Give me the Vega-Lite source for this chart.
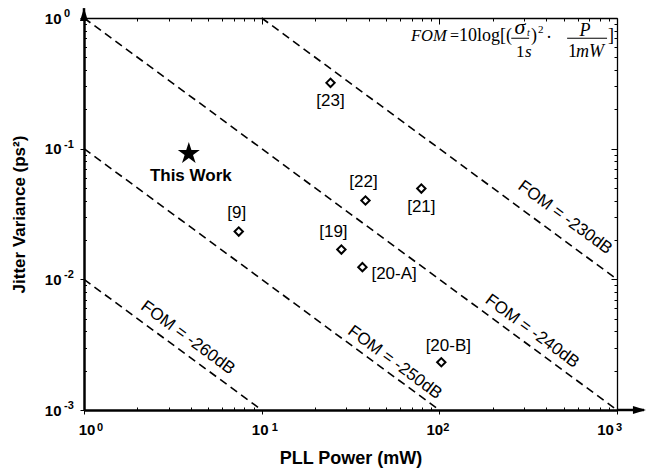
{
  "$schema": "https://vega.github.io/schema/vega-lite/v6.json",
  "width": 533,
  "height": 392,
  "autosize": "none",
  "padding": {"left": 84, "top": 18, "right": 31, "bottom": 59},
  "background": "white",
  "config": {"view": {"stroke": null}, "font": "Liberation Sans", "axis": {"grid": false}},
  "data": {"values": [{}]},
  "datasets": {
    "fom": [
      {"fom": "-230dB", "p1": 10, "v1": 1, "p2": 1000, "v2": 0.01},
      {"fom": "-240dB", "p1": 1, "v1": 1, "p2": 1000, "v2": 0.001},
      {"fom": "-250dB", "p1": 1, "v1": 0.1, "p2": 100, "v2": 0.001},
      {"fom": "-260dB", "p1": 1, "v1": 0.01, "p2": 10, "v2": 0.001}
    ],
    "fomLabels": [
      {"text": "FOM = -230dB", "p": 510, "v": 0.0297},
      {"text": "FOM = -240dB", "p": 333, "v": 0.00401},
      {"text": "FOM = -250dB", "p": 56.2, "v": 0.00231},
      {"text": "FOM = -260dB", "p": 3.84, "v": 0.00357}
    ],
    "refs": [
      {"name": "[23]", "power": 24.4, "jitter": 0.319},
      {"name": "[22]", "power": 38.4, "jitter": 0.0401},
      {"name": "[21]", "power": 79.2, "jitter": 0.0495},
      {"name": "[9]", "power": 7.43, "jitter": 0.0232},
      {"name": "[19]", "power": 28.1, "jitter": 0.0169},
      {"name": "[20-A]", "power": 36.9, "jitter": 0.0124},
      {"name": "[20-B]", "power": 102.6, "jitter": 0.00232}
    ],
    "thiswork": [{"name": "This Work", "power": 3.89, "jitter": 0.0916}],
    "yExp": [
      {"v": 1, "e": "0"},
      {"v": 0.1, "e": "-1"},
      {"v": 0.01, "e": "-2"},
      {"v": 0.001, "e": "-3"}
    ]
  },
  "resolve": {"axis": {"x": "independent", "y": "independent"}},
  "layer": [
    {
      "data": {"name": "fom"},
      "mark": {"type": "rule", "color": "black", "strokeWidth": 1.6, "strokeDash": [8, 5]},
      "encoding": {
        "x": {
          "field": "p1", "type": "quantitative",
          "scale": {"type": "log", "domain": [1, 1000], "nice": false},
          "axis": {
            "orient": "bottom",
            "values": [1,2,3,4,5,6,7,8,9,10,20,30,40,50,60,70,80,90,100,200,300,400,500,600,700,800,900,1000],
            "labelExpr": "(datum.value == 1 || datum.value == 10 || datum.value == 100 || datum.value == 1000) ? '10' : ''",
            "tickSize": {"condition": {"test": "abs(log(datum.value)/LN10 - round(log(datum.value)/LN10)) < 0.001", "value": 4}, "value": -3},
            "labelOffset": {"condition": [{"test": "datum.value == 1", "value": 2.5}, {"test": "datum.value == 10", "value": -2}, {"test": "datum.value == 100", "value": -5}, {"test": "datum.value == 1000", "value": -12}], "value": 0},
            "tickColor": "black", "tickWidth": 1,
            "domainColor": "black", "domainWidth": 2.5,
            "labelFont": "Liberation Sans", "labelFontWeight": "bold", "labelFontSize": 15, "labelColor": "black",
            "labelPadding": 8, "labelOverlap": false, "labelFlush": false, "labelBound": false,
            "title": "PLL Power (mW)", "titleFont": "Liberation Sans", "titleFontSize": 18, "titleFontWeight": "bold",
            "titleColor": "black", "titleBaseline": "alphabetic", "titleY": 53
          }
        },
        "y": {
          "field": "v1", "type": "quantitative",
          "scale": {"type": "log", "domain": [0.001, 1], "nice": false},
          "axis": {
            "orient": "left",
            "values": [0.001,0.002,0.003,0.004,0.005,0.006,0.007,0.008,0.009,0.01,0.02,0.03,0.04,0.05,0.06,0.07,0.08,0.09,0.1,0.2,0.3,0.4,0.5,0.6,0.7,0.8,0.9,1],
            "labelExpr": "(datum.value == 1 || datum.value == 0.1 || datum.value == 0.01 || datum.value == 0.001) ? '10' : ''",
            "tickSize": {"condition": {"test": "abs(log(datum.value)/LN10 - round(log(datum.value)/LN10)) < 0.001", "value": 4}, "value": -2.5},
            "tickColor": "black", "tickWidth": 1,
            "domainColor": "black", "domainWidth": 2.5,
            "labelFont": "Liberation Sans", "labelFontWeight": "bold", "labelFontSize": 15, "labelColor": "black",
            "labelPadding": 19, "labelOverlap": false, "labelFlush": false, "labelBound": false, "labelBaseline": "middle",
            "title": "Jitter Variance (ps²)", "titleFont": "Liberation Sans", "titleFontSize": 17, "titleFontWeight": "bold",
            "titleColor": "black", "titleBaseline": "alphabetic", "titleX": -60
          }
        },
        "x2": {"field": "p2"},
        "y2": {"field": "v2"}
      }
    },
    {
      "data": {"name": "refs"},
      "mark": {"type": "point", "shape": "diamond", "filled": false, "stroke": "black", "strokeWidth": 2, "size": 70, "opacity": 1},
      "encoding": {
        "x": {
          "field": "power", "type": "quantitative",
          "axis": {
            "orient": "top",
            "values": [1,2,3,4,5,6,7,8,9,10,20,30,40,50,60,70,80,90,100,200,300,400,500,600,700,800,900,1000],
            "labels": false, "title": null,
            "tickSize": {"condition": {"test": "abs(log(datum.value)/LN10 - round(log(datum.value)/LN10)) < 0.001", "value": -6}, "value": -3},
            "tickColor": "black", "tickWidth": 1, "domainColor": "black", "domainWidth": 1.3
          }
        },
        "y": {
          "field": "jitter", "type": "quantitative",
          "axis": {
            "orient": "right",
            "values": [0.001,0.002,0.003,0.004,0.005,0.006,0.007,0.008,0.009,0.01,0.02,0.03,0.04,0.05,0.06,0.07,0.08,0.09,0.1,0.2,0.3,0.4,0.5,0.6,0.7,0.8,0.9,1],
            "labels": false, "title": null,
            "tickSize": {"condition": {"test": "abs(log(datum.value)/LN10 - round(log(datum.value)/LN10)) < 0.001", "value": -6}, "value": -3},
            "tickColor": "black", "tickWidth": 1, "domainColor": "black", "domainWidth": 1.3
          }
        }
      }
    },
    {
      "data": {"name": "yExp"},
      "mark": {"type": "text", "font": "Liberation Sans", "fontSize": 11, "fontWeight": "bold", "color": "black", "align": "left", "baseline": "middle", "dx": -20, "dy": -4},
      "encoding": {
        "x": {"datum": 1, "type": "quantitative", "axis": null},
        "y": {"field": "v", "type": "quantitative", "axis": null},
        "text": {"field": "e"}
      }
    },
    {
      "mark": {"type": "text", "text": "0", "font": "Liberation Sans", "fontSize": 11, "fontWeight": "bold", "color": "black", "align": "left", "baseline": "middle", "dx": 13, "dy": 17.5},
      "encoding": {"x": {"datum": 1, "type": "quantitative", "axis": null}, "y": {"datum": 0.001, "type": "quantitative", "axis": null}}
    },
    {
      "mark": {"type": "text", "text": "1", "font": "Liberation Sans", "fontSize": 11, "fontWeight": "bold", "color": "black", "align": "left", "baseline": "middle", "dx": 10, "dy": 17.5},
      "encoding": {"x": {"datum": 10, "type": "quantitative", "axis": null}, "y": {"datum": 0.001, "type": "quantitative", "axis": null}}
    },
    {
      "mark": {"type": "text", "text": "2", "font": "Liberation Sans", "fontSize": 11, "fontWeight": "bold", "color": "black", "align": "left", "baseline": "middle", "dx": 4, "dy": 17.5},
      "encoding": {"x": {"datum": 100, "type": "quantitative", "axis": null}, "y": {"datum": 0.001, "type": "quantitative", "axis": null}}
    },
    {
      "mark": {"type": "text", "text": "3", "font": "Liberation Sans", "fontSize": 11, "fontWeight": "bold", "color": "black", "align": "left", "baseline": "middle", "dx": -1, "dy": 17.5},
      "encoding": {"x": {"datum": 1000, "type": "quantitative", "axis": null}, "y": {"datum": 0.001, "type": "quantitative", "axis": null}}
    },
    {
      "mark": {"type": "rule", "color": "black", "strokeWidth": 2.5},
      "encoding": {
        "x": {"datum": 1, "type": "quantitative", "axis": null},
        "y": {"datum": 1, "type": "quantitative", "axis": null},
        "y2": {"datum": 1.19}
      }
    },
    {
      "mark": {"type": "rule", "color": "black", "strokeWidth": 2.5},
      "encoding": {
        "x": {"datum": 1000, "type": "quantitative", "axis": null},
        "x2": {"datum": 1420},
        "y": {"datum": 0.001, "type": "quantitative", "axis": null}
      }
    },
    {
      "mark": {"type": "point", "shape": "M0,-1L0.62,1L-0.62,1Z", "filled": true, "color": "black", "size": 169, "opacity": 1},
      "encoding": {
        "x": {"datum": 1, "type": "quantitative", "axis": null},
        "y": {"datum": 1.063, "type": "quantitative", "axis": null}
      }
    },
    {
      "mark": {"type": "point", "shape": "M1,0L-1,-0.62L-1,0.62Z", "filled": true, "color": "black", "size": 169, "opacity": 1},
      "encoding": {
        "x": {"datum": 1338, "type": "quantitative", "axis": null},
        "y": {"datum": 0.001, "type": "quantitative", "axis": null}
      }
    },
    {
      "data": {"name": "fomLabels"},
      "mark": {"type": "text", "angle": 36.4, "align": "center", "baseline": "middle", "font": "Liberation Sans", "fontSize": 17, "color": "black"},
      "encoding": {
        "x": {"field": "p", "type": "quantitative", "axis": null},
        "y": {"field": "v", "type": "quantitative", "axis": null},
        "text": {"field": "text"}
      }
    },
    {
      "data": {"name": "thiswork"},
      "mark": {"type": "point", "shape": "M0,-1L0.2245,-0.309L0.951,-0.309L0.3633,0.118L0.588,0.809L0,0.382L-0.588,0.809L-0.3633,0.118L-0.951,-0.309L-0.2245,-0.309Z", "filled": true, "color": "black", "size": 535, "opacity": 1},
      "encoding": {
        "x": {"field": "power", "type": "quantitative", "axis": null},
        "y": {"field": "jitter", "type": "quantitative", "axis": null}
      }
    },
    {
      "data": {"name": "thiswork"},
      "mark": {"type": "text", "font": "Liberation Sans", "fontSize": 17, "fontWeight": "bold", "color": "black", "baseline": "middle", "dx": 2, "dy": 22},
      "encoding": {
        "x": {"field": "power", "type": "quantitative", "axis": null},
        "y": {"field": "jitter", "type": "quantitative", "axis": null},
        "text": {"field": "name"}
      }
    },
    {
      "data": {"name": "refs"},
      "transform": [{"filter": "datum.name == '[22]' || datum.name == '[9]'"}],
      "mark": {"type": "text", "font": "Liberation Sans", "fontSize": 17, "color": "black", "baseline": "middle", "dx": -2, "dy": -19},
      "encoding": {
        "x": {"field": "power", "type": "quantitative", "axis": null},
        "y": {"field": "jitter", "type": "quantitative", "axis": null},
        "text": {"field": "name"}
      }
    },
    {
      "data": {"name": "refs"},
      "transform": [{"filter": "datum.name == '[19]'"}],
      "mark": {"type": "text", "font": "Liberation Sans", "fontSize": 17, "color": "black", "baseline": "middle", "dx": -8, "dy": -18},
      "encoding": {
        "x": {"field": "power", "type": "quantitative", "axis": null},
        "y": {"field": "jitter", "type": "quantitative", "axis": null},
        "text": {"field": "name"}
      }
    },
    {
      "data": {"name": "refs"},
      "transform": [{"filter": "datum.name == '[20-B]'"}],
      "mark": {"type": "text", "font": "Liberation Sans", "fontSize": 17, "color": "black", "baseline": "middle", "dx": 7, "dy": -16},
      "encoding": {
        "x": {"field": "power", "type": "quantitative", "axis": null},
        "y": {"field": "jitter", "type": "quantitative", "axis": null},
        "text": {"field": "name"}
      }
    },
    {
      "data": {"name": "refs"},
      "transform": [{"filter": "datum.name == '[23]' || datum.name == '[21]'"}],
      "mark": {"type": "text", "font": "Liberation Sans", "fontSize": 17, "color": "black", "baseline": "middle", "dy": 18},
      "encoding": {
        "x": {"field": "power", "type": "quantitative", "axis": null},
        "y": {"field": "jitter", "type": "quantitative", "axis": null},
        "text": {"field": "name"}
      }
    },
    {
      "data": {"name": "refs"},
      "transform": [{"filter": "datum.name == '[20-A]'"}],
      "mark": {"type": "text", "font": "Liberation Sans", "fontSize": 17, "color": "black", "baseline": "middle", "align": "left", "dx": 9, "dy": 7},
      "encoding": {
        "x": {"field": "power", "type": "quantitative", "axis": null},
        "y": {"field": "jitter", "type": "quantitative", "axis": null},
        "text": {"field": "name"}
      }
    },
    {
      "mark": {"type": "text", "text": "FOM", "font": "Liberation Serif", "fontSize": 16.5, "fontStyle": "italic", "color": "black", "align": "left", "baseline": "alphabetic", "dx": -206, "dy": 23},
      "encoding": {"x": {"datum": 1000, "type": "quantitative", "axis": null}, "y": {"datum": 1, "type": "quantitative", "axis": null}}
    },
    {
      "mark": {"type": "text", "text": "=", "font": "Liberation Serif", "fontSize": 16, "color": "black", "align": "left", "baseline": "alphabetic", "dx": -167, "dy": 23},
      "encoding": {"x": {"datum": 1000, "type": "quantitative", "axis": null}, "y": {"datum": 1, "type": "quantitative", "axis": null}}
    },
    {
      "mark": {"type": "text", "text": "10log[(", "font": "Liberation Serif", "fontSize": 18, "color": "black", "align": "left", "baseline": "alphabetic", "dx": -158, "dy": 23},
      "encoding": {"x": {"datum": 1000, "type": "quantitative", "axis": null}, "y": {"datum": 1, "type": "quantitative", "axis": null}}
    },
    {
      "mark": {"type": "text", "text": "σ", "font": "Liberation Serif", "fontSize": 22, "fontStyle": "italic", "color": "black", "align": "center", "baseline": "alphabetic", "dx": -97, "dy": 16},
      "encoding": {"x": {"datum": 1000, "type": "quantitative", "axis": null}, "y": {"datum": 1, "type": "quantitative", "axis": null}}
    },
    {
      "mark": {"type": "text", "text": "t", "font": "Liberation Serif", "fontSize": 10, "fontStyle": "italic", "color": "black", "align": "left", "baseline": "alphabetic", "dx": -90, "dy": 18},
      "encoding": {"x": {"datum": 1000, "type": "quantitative", "axis": null}, "y": {"datum": 1, "type": "quantitative", "axis": null}}
    },
    {
      "mark": {"type": "rule", "color": "black", "strokeWidth": 1},
      "encoding": {"x": {"datum": 254, "type": "quantitative", "axis": null}, "x2": {"datum": 320}, "y": {"datum": 0.70, "type": "quantitative", "axis": null}}
    },
    {
      "mark": {"type": "text", "text": "1", "font": "Liberation Serif", "fontSize": 17, "color": "black", "align": "left", "baseline": "alphabetic", "dx": -101, "dy": 39},
      "encoding": {"x": {"datum": 1000, "type": "quantitative", "axis": null}, "y": {"datum": 1, "type": "quantitative", "axis": null}}
    },
    {
      "mark": {"type": "text", "text": "s", "font": "Liberation Serif", "fontSize": 17, "fontStyle": "italic", "color": "black", "align": "left", "baseline": "alphabetic", "dx": -92, "dy": 39},
      "encoding": {"x": {"datum": 1000, "type": "quantitative", "axis": null}, "y": {"datum": 1, "type": "quantitative", "axis": null}}
    },
    {
      "mark": {"type": "text", "text": ")", "font": "Liberation Serif", "fontSize": 18, "color": "black", "align": "left", "baseline": "alphabetic", "dx": -86, "dy": 23},
      "encoding": {"x": {"datum": 1000, "type": "quantitative", "axis": null}, "y": {"datum": 1, "type": "quantitative", "axis": null}}
    },
    {
      "mark": {"type": "text", "text": "2", "font": "Liberation Serif", "fontSize": 11, "color": "black", "align": "left", "baseline": "alphabetic", "dx": -79, "dy": 15},
      "encoding": {"x": {"datum": 1000, "type": "quantitative", "axis": null}, "y": {"datum": 1, "type": "quantitative", "axis": null}}
    },
    {
      "mark": {"type": "text", "text": "·", "font": "Liberation Serif", "fontSize": 18, "color": "black", "align": "center", "baseline": "alphabetic", "dx": -68, "dy": 25},
      "encoding": {"x": {"datum": 1000, "type": "quantitative", "axis": null}, "y": {"datum": 1, "type": "quantitative", "axis": null}}
    },
    {
      "mark": {"type": "text", "text": "P", "font": "Liberation Serif", "fontSize": 18, "fontStyle": "italic", "color": "black", "align": "center", "baseline": "alphabetic", "dx": -32, "dy": 18},
      "encoding": {"x": {"datum": 1000, "type": "quantitative", "axis": null}, "y": {"datum": 1, "type": "quantitative", "axis": null}}
    },
    {
      "mark": {"type": "rule", "color": "black", "strokeWidth": 1},
      "encoding": {"x": {"datum": 524, "type": "quantitative", "axis": null}, "x2": {"datum": 879}, "y": {"datum": 0.70, "type": "quantitative", "axis": null}}
    },
    {
      "mark": {"type": "text", "text": "1", "font": "Liberation Serif", "fontSize": 18, "color": "black", "align": "left", "baseline": "alphabetic", "dx": -49, "dy": 39},
      "encoding": {"x": {"datum": 1000, "type": "quantitative", "axis": null}, "y": {"datum": 1, "type": "quantitative", "axis": null}}
    },
    {
      "mark": {"type": "text", "text": "mW", "font": "Liberation Serif", "fontSize": 18, "fontStyle": "italic", "color": "black", "align": "left", "baseline": "alphabetic", "dx": -41, "dy": 39},
      "encoding": {"x": {"datum": 1000, "type": "quantitative", "axis": null}, "y": {"datum": 1, "type": "quantitative", "axis": null}}
    },
    {
      "mark": {"type": "text", "text": "]", "font": "Liberation Serif", "fontSize": 18, "color": "black", "align": "left", "baseline": "alphabetic", "dx": -9, "dy": 23},
      "encoding": {"x": {"datum": 1000, "type": "quantitative", "axis": null}, "y": {"datum": 1, "type": "quantitative", "axis": null}}
    }
  ]
}
